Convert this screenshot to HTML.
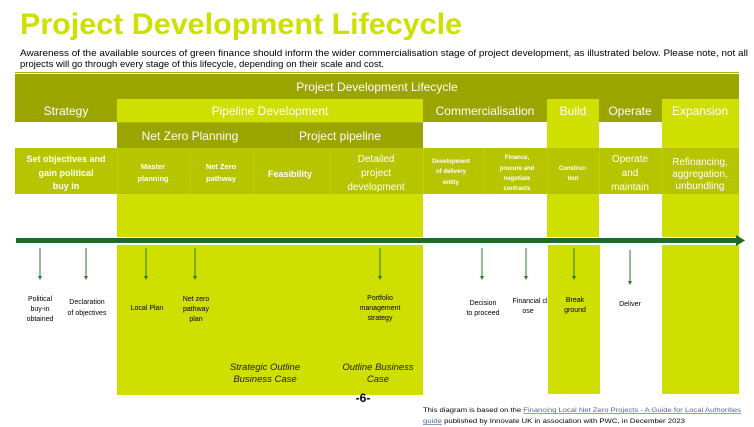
<!DOCTYPE html>
<html><head><meta charset="utf-8"><style>
html,body{margin:0;padding:0;background:#fff;width:754px;height:427px;overflow:hidden}
svg{display:block;font-family:"Liberation Sans",sans-serif}
</style></head><body>
<svg width="754" height="427" viewBox="0 0 754 427" xmlns="http://www.w3.org/2000/svg">
<text x="20" y="34" font-size="30" font-weight="bold" fill="#cde000" textLength="442" lengthAdjust="spacingAndGlyphs">Project Development Lifecycle</text>
<text x="20" y="56" font-size="9.5" fill="#000" textLength="728" lengthAdjust="spacingAndGlyphs">Awareness of the available sources of green finance should inform the wider commercialisation stage of project development, as illustrated below. Please note, not all</text>
<text x="20" y="67" font-size="9.5" fill="#000" textLength="364" lengthAdjust="spacingAndGlyphs">projects will go through every stage of this lifecycle, depending on their scale and cost.</text>
<line x1="15" y1="72.5" x2="739" y2="72.5" stroke="#a9b400" stroke-width="1"/>
<!-- header -->
<rect x="15" y="74" width="724" height="25" fill="#9ba500"/>
<text x="377" y="91" font-size="12" fill="#fff" text-anchor="middle">Project Development Lifecycle</text>
<!-- row2 -->
<rect x="15" y="99" width="102" height="23" fill="#9ba500"/>
<rect x="117" y="99" width="306" height="23" fill="#cfdf00"/>
<rect x="423" y="99" width="124" height="23" fill="#9ba500"/>
<rect x="547" y="99" width="52" height="23" fill="#cfdf00"/>
<rect x="599" y="99" width="63" height="23" fill="#9ba500"/>
<rect x="662" y="99" width="77" height="23" fill="#cfdf00"/>
<g font-size="12" fill="#fff" text-anchor="middle">
<text x="66" y="115">Strategy</text><text x="270" y="115">Pipeline Development</text>
<text x="485" y="115">Commercialisation</text><text x="573" y="115">Build</text>
<text x="630" y="115">Operate</text><text x="700" y="115">Expansion</text>
</g>
<!-- row3 -->
<rect x="117" y="122" width="145" height="26" fill="#9ba500"/>
<rect x="262" y="122" width="161" height="26" fill="#9ba500"/>
<rect x="547" y="122" width="52" height="26" fill="#cfdf00"/>
<rect x="662" y="122" width="77" height="26" fill="#cfdf00"/>
<text x="190" y="140" font-size="12" fill="#fff" text-anchor="middle">Net Zero Planning</text>
<text x="340" y="140" font-size="12" fill="#fff" text-anchor="middle">Project pipeline</text>
<line x1="117" y1="122" x2="423" y2="122" stroke="#c9d900" stroke-width="1"/>
<!-- row4 -->
<rect x="15" y="148" width="724" height="46" fill="#b6c500"/>
<g stroke="#c2d000" stroke-width="1">
<line x1="117.5" y1="148" x2="117.5" y2="194"/><line x1="190.5" y1="148" x2="190.5" y2="194"/>
<line x1="253.5" y1="148" x2="253.5" y2="194"/><line x1="330.5" y1="148" x2="330.5" y2="194"/>
<line x1="423.5" y1="148" x2="423.5" y2="194"/><line x1="483.5" y1="148" x2="483.5" y2="194"/>
<line x1="547.5" y1="148" x2="547.5" y2="194"/><line x1="599.5" y1="148" x2="599.5" y2="194"/>
<line x1="662.5" y1="148" x2="662.5" y2="194"/>
</g>
<g fill="#fff" text-anchor="middle" font-weight="bold">
<g font-size="9"><text x="66" y="162">Set objectives and</text><text x="66" y="176">gain political</text><text x="66" y="189">buy in</text></g>
<g font-size="7.5"><text x="153" y="169">Master</text><text x="153" y="181">planning</text>
<text x="221" y="169">Net Zero</text><text x="221" y="181">pathway</text></g>
<text x="290" y="177" font-size="9">Feasibility</text>
</g>
<g fill="#fff" text-anchor="middle" font-size="10">
<text x="376" y="162">Detailed</text><text x="376" y="176">project</text><text x="376" y="190">development</text>
<text x="630" y="162">Operate</text><text x="630" y="176">and</text><text x="630" y="190">maintain</text>
<text x="700" y="165">Refinancing,</text><text x="700" y="177">aggregation,</text><text x="700" y="189">unbundling</text>
</g>
<g fill="#fff" text-anchor="middle" font-size="6" font-weight="bold">
<text x="451" y="163">Development</text><text x="451" y="173">of delivery</text><text x="451" y="184">entity</text>
<text x="517" y="159">Finance,</text><text x="517" y="170">procure and</text><text x="517" y="180">negotiate</text><text x="517" y="190">contracts</text>
<text x="573" y="170">Construc-</text><text x="573" y="180">tion</text>
</g>
<!-- row5 -->
<rect x="117" y="194" width="306" height="43" fill="#cfdf00"/>
<rect x="547" y="194" width="52" height="43" fill="#cfdf00"/>
<rect x="662" y="194" width="77" height="43" fill="#cfdf00"/>
<!-- lower columns -->
<rect x="117" y="245" width="306" height="150" fill="#cfdf00"/>
<rect x="548" y="245" width="52" height="149" fill="#cfdf00"/>
<rect x="662" y="245" width="77" height="149" fill="#cfdf00"/>
<!-- main arrow -->
<rect x="16" y="238" width="722" height="5" fill="#1e6a2c"/>
<polygon points="736,235 745,240.5 736,246" fill="#1e6a2c"/>
<!-- small arrows -->
<g stroke="#2d7a2d" stroke-width="1" fill="#2d7a2d">
<line x1="40" y1="248" x2="40" y2="277"/><polygon points="38,276 42,276 40,280" stroke="none"/>
<line x1="86" y1="248" x2="86" y2="277"/><polygon points="84,276 88,276 86,280" stroke="none"/>
<line x1="146" y1="248" x2="146" y2="277"/><polygon points="144,276 148,276 146,280" stroke="none"/>
<line x1="195" y1="248" x2="195" y2="277"/><polygon points="193,276 197,276 195,280" stroke="none"/>
<line x1="380" y1="248" x2="380" y2="277"/><polygon points="378,276 382,276 380,280" stroke="none"/>
<line x1="482" y1="248" x2="482" y2="277"/><polygon points="480,276 484,276 482,280" stroke="none"/>
<line x1="526" y1="248" x2="526" y2="277"/><polygon points="524,276 528,276 526,280" stroke="none"/>
<line x1="574" y1="248" x2="574" y2="277"/><polygon points="572,276 576,276 574,280" stroke="none"/>
<line x1="630" y1="250" x2="630" y2="282"/><polygon points="628,281 632,281 630,285" stroke="none"/>
</g>
<g font-size="7" fill="#000" text-anchor="middle">
<text x="40" y="301">Political</text><text x="40" y="311">buy-in</text><text x="40" y="321">obtained</text>
<text x="87" y="304">Declaration</text><text x="87" y="315">of objectives</text>
<text x="147" y="310">Local Plan</text>
<text x="196" y="301">Net zero</text><text x="196" y="311">pathway</text><text x="196" y="321">plan</text>
<text x="380" y="300">Portfolio</text><text x="380" y="310">management</text><text x="380" y="320">strategy</text>
<text x="483" y="305">Decision</text><text x="483" y="315">to proceed</text>
<text x="530" y="303">Financial cl</text><text x="528" y="313">ose</text>
<text x="575" y="302">Break</text><text x="575" y="312">ground</text>
<text x="630" y="306">Deliver</text>
</g>
<g font-size="9.5" font-style="italic" fill="#222" text-anchor="middle">
<text x="265" y="370">Strategic Outline</text><text x="265" y="382">Business Case</text>
<text x="378" y="370">Outline Business</text><text x="378" y="382">Case</text>
</g>
<text x="363" y="402" font-size="12" font-weight="bold" fill="#000" text-anchor="middle">-6-</text>
<text x="423" y="412" font-size="6.5" fill="#000" textLength="318" lengthAdjust="spacingAndGlyphs">This diagram is based on the <tspan fill="#4a6a9a" text-decoration="underline">Financing Local Net Zero Projects - A Guide for Local Authorities</tspan></text>
<text x="423" y="423" font-size="6.5" fill="#000" textLength="262" lengthAdjust="spacingAndGlyphs"><tspan fill="#4a6a9a" text-decoration="underline">guide</tspan> published by Innovate UK in association with PWC, in December 2023</text>
</svg>
</body></html>
